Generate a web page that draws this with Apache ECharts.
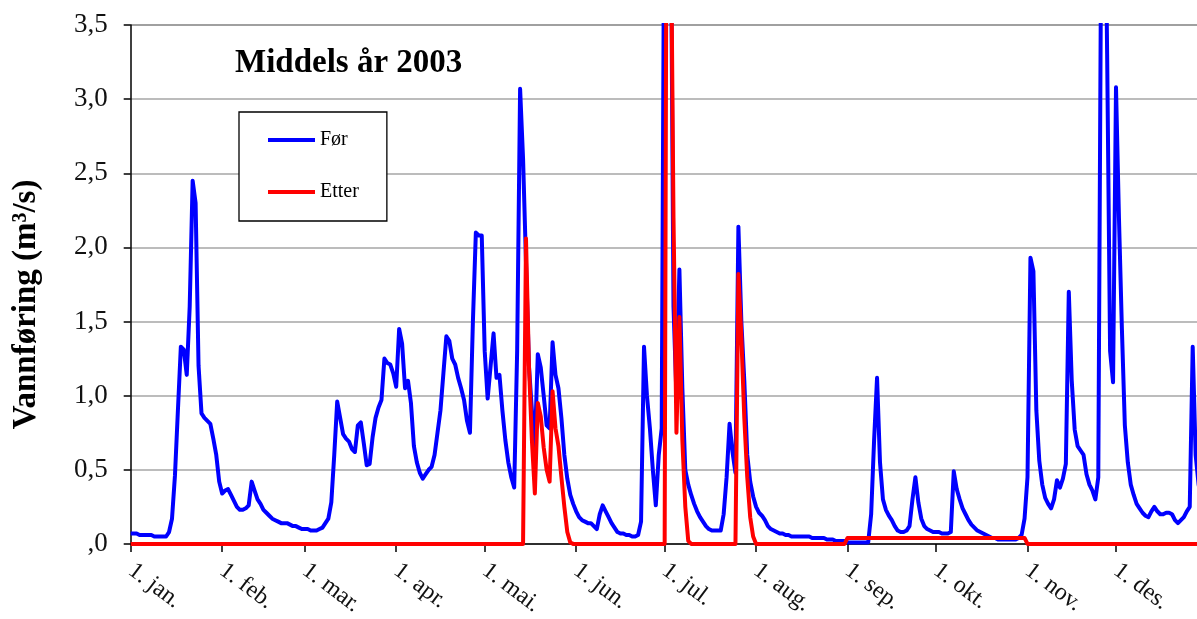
<!DOCTYPE html>
<html>
<head>
<meta charset="utf-8">
<script src="https://cdn.jsdelivr.net/npm/echarts@6/dist/echarts.min.js"></script>
<style>
  html, body { margin: 0; padding: 0; background: #fff; }
  #chart { width: 1197px; height: 619px; }
</style>
</head>
<body>
<div id="chart"></div>
<script>
// Daily discharge (m³/s) for 2003, day 0 = 1 January.
const forValues = [
  // jan
  0.07,0.07,0.07,0.06,0.06,0.06,0.06,0.06,0.05,0.05,0.05,0.05,0.05,0.08,0.17,0.46,0.9,1.33,1.31,1.14,1.6,2.45,2.3,1.2,0.88,0.85,0.83,0.81,0.71,0.6,0.42,
  // feb
  0.34,0.36,0.37,0.33,0.29,0.25,0.23,0.23,0.24,0.26,0.42,0.36,0.3,0.27,0.23,0.21,0.19,0.17,0.16,0.15,0.14,0.14,0.14,0.13,0.12,0.12,0.11,0.1,
  // mar
  0.1,0.1,0.09,0.09,0.09,0.1,0.11,0.14,0.17,0.28,0.6,0.96,0.85,0.74,0.71,0.69,0.64,0.62,0.8,0.82,0.68,0.53,0.54,0.72,0.85,0.92,0.97,1.25,1.22,1.21,1.15,
  // apr
  1.06,1.45,1.35,1.05,1.1,0.95,0.66,0.55,0.48,0.44,0.47,0.5,0.52,0.6,0.75,0.9,1.15,1.4,1.37,1.25,1.21,1.12,1.05,0.97,0.83,0.75,1.5,2.1,2.08,2.08,
  // mai
  1.3,0.98,1.2,1.42,1.12,1.14,0.9,0.7,0.55,0.45,0.38,1.3,3.07,2.6,1.9,1.2,0.9,0.66,1.28,1.19,1.0,0.8,0.78,1.36,1.14,1.05,0.85,0.6,0.44,0.33,0.27,
  // jun
  0.22,0.18,0.16,0.15,0.14,0.14,0.12,0.1,0.2,0.26,0.22,0.18,0.14,0.11,0.08,0.07,0.07,0.06,0.06,0.05,0.05,0.06,0.15,1.33,1.0,0.78,0.5,0.26,0.6,0.78,
  // jul
  5.0,6.0,4.5,1.6,1.0,1.85,1.05,0.5,0.4,0.33,0.27,0.22,0.18,0.15,0.12,0.1,0.09,0.09,0.09,0.09,0.2,0.45,0.81,0.62,0.48,2.14,1.5,1.1,0.6,0.42,0.32,
  // aug
  0.25,0.21,0.19,0.16,0.12,0.1,0.09,0.08,0.07,0.07,0.06,0.06,0.05,0.05,0.05,0.05,0.05,0.05,0.05,0.04,0.04,0.04,0.04,0.04,0.03,0.03,0.03,0.02,0.02,0.02,0.02,
  // sep
  0.01,0.01,0.01,0.01,0.01,0.01,0.01,0.01,0.2,0.7,1.12,0.55,0.3,0.23,0.19,0.16,0.12,0.09,0.08,0.08,0.09,0.12,0.3,0.45,0.28,0.17,0.12,0.1,0.09,0.08,
  // okt
  0.08,0.08,0.07,0.07,0.07,0.08,0.49,0.37,0.3,0.24,0.2,0.16,0.13,0.11,0.09,0.08,0.07,0.06,0.05,0.04,0.04,0.03,0.03,0.03,0.03,0.03,0.03,0.03,0.04,0.06,0.17,
  // nov
  0.45,1.93,1.84,0.9,0.56,0.4,0.31,0.27,0.24,0.3,0.43,0.38,0.44,0.54,1.7,1.1,0.77,0.66,0.63,0.6,0.47,0.4,0.36,0.3,0.45,4.2,5.0,3.3,1.3,1.09,
  // des
  3.08,2.2,1.45,0.8,0.55,0.4,0.33,0.27,0.24,0.21,0.19,0.18,0.22,0.25,0.22,0.2,0.2,0.21,0.21,0.2,0.16,0.14,0.16,0.18,0.22,0.25,1.33,0.6,0.4,0.3,0.25
];

const etterValues = [
  // jan
  0,0,0,0,0,0,0,0,0,0,0,0,0,0,0,0,0,0,0,0,0,0,0,0,0,0,0,0,0,0,0,
  // feb
  0,0,0,0,0,0,0,0,0,0,0,0,0,0,0,0,0,0,0,0,0,0,0,0,0,0,0,0,
  // mar
  0,0,0,0,0,0,0,0,0,0,0,0,0,0,0,0,0,0,0,0,0,0,0,0,0,0,0,0,0,0,0,
  // apr
  0,0,0,0,0,0,0,0,0,0,0,0,0,0,0,0,0,0,0,0,0,0,0,0,0,0,0,0,0,0,
  // mai
  0,0,0,0,0,0,0,0,0,0,0,0,0,0,2.06,1.2,0.7,0.34,0.95,0.86,0.65,0.5,0.42,1.03,0.78,0.66,0.45,0.25,0.08,0.01,0,
  // jun
  0,0,0,0,0,0,0,0,0,0,0,0,0,0,0,0,0,0,0,0,0,0,0,0,0,0,0,0,0,0,
  // jul
  0,7.0,4.5,2.2,0.75,1.53,0.7,0.25,0.02,0,0,0,0,0,0,0,0,0,0,0,0,0,0,0,0,1.82,1.4,0.85,0.45,0.18,0.05,
  // aug
  0,0,0,0,0,0,0,0,0,0,0,0,0,0,0,0,0,0,0,0,0,0,0,0,0,0,0,0,0,0,0,
  // sep
  0.04,0.04,0.04,0.04,0.04,0.04,0.04,0.04,0.04,0.04,0.04,0.04,0.04,0.04,0.04,0.04,0.04,0.04,0.04,0.04,0.04,0.04,0.04,0.04,0.04,0.04,0.04,0.04,0.04,0.04,
  // okt
  0.04,0.04,0.04,0.04,0.04,0.04,0.04,0.04,0.04,0.04,0.04,0.04,0.04,0.04,0.04,0.04,0.04,0.04,0.04,0.04,0.04,0.04,0.04,0.04,0.04,0.04,0.04,0.04,0.04,0.04,0.04,
  // nov
  0,0,0,0,0,0,0,0,0,0,0,0,0,0,0,0,0,0,0,0,0,0,0,0,0,0,0,0,0,0,
  // des
  0,0,0,0,0,0,0,0,0,0,0,0,0,0,0,0,0,0,0,0,0,0,0,0,0,0,0,0,0,0,0
];

// First day of each month (day of year) and its label
const monthStarts = [0, 31, 59, 90, 120, 151, 181, 212, 243, 273, 304, 334];
const monthLabels = ['1. jan.', '1. feb.', '1. mar.', '1. apr.', '1. mai.', '1. jun.',
                     '1. jul.', '1. aug.', '1. sep.', '1. okt.', '1. nov.', '1. des.'];

const yTicks = [0, 0.5, 1, 1.5, 2, 2.5, 3, 3.5];
const yTickLabels = [',0', '0,5', '1,0', '1,5', '2,0', '2,5', '3,0', '3,5'];

const seriesNames = ['Før', 'Etter'];
const chartTitle = 'Middels år 2003';
const yName = 'Vannføring (m³/s)';

const serif = 'Liberation Serif, Times New Roman, serif';

// The plot runs past the right edge of the canvas: the visible part ends
// a few days before the end of the year.
const plotLeft = 130.7;
const pxPerDay = 2.95;
const lastVisibleDay = (1197 - plotLeft) / pxPerDay;

const chart = echarts.init(document.getElementById('chart'), null, { renderer: 'canvas' });

chart.setOption({
  animation: false,
  backgroundColor: '#ffffff',
  title: {
    text: chartTitle,
    left: 235,
    top: 47,
    padding: 0,
    textStyle: { fontFamily: serif, fontWeight: 'bold', fontSize: 33, color: '#000' }
  },
  legend: {
    data: seriesNames,
    orient: 'vertical',
    left: 239,
    top: 112,
    padding: [18, 28, 19, 29],
    icon: 'rect',
    itemWidth: 47,
    itemHeight: 4,
    itemGap: 32,
    backgroundColor: '#fff',
    borderColor: '#000',
    borderWidth: 1.3,
    borderRadius: 0,
    textStyle: { fontFamily: serif, fontSize: 20, color: '#000' }
  },
  grid: { left: plotLeft, top: 25, bottom: 74, right: 0, containLabel: false },
  xAxis: {
    type: 'value',
    min: 0,
    max: lastVisibleDay,
    axisLine: { show: true, onZero: false, lineStyle: { color: '#000', width: 1.5 } },
    axisTick: { show: true, length: 8, customValues: monthStarts, lineStyle: { color: '#000', width: 1.5 } },
    axisLabel: {
      customValues: monthStarts,
      rotate: -37,
      margin: 24,
      fontFamily: serif,
      fontSize: 24,
      color: '#111',
      formatter: function (v) {
        const i = monthStarts.indexOf(Math.round(v));
        return i >= 0 ? monthLabels[i] : '';
      }
    },
    splitLine: { show: false }
  },
  yAxis: {
    type: 'value',
    min: 0,
    max: 3.5,
    interval: 0.5,
    name: yName,
    nameLocation: 'middle',
    nameRotate: 90,
    nameGap: 88,
    nameTextStyle: {
      fontFamily: serif, fontWeight: 'bold', fontSize: 33, color: '#000',
      padding: [0, 40, 0, 0]
    },
    axisLine: { show: true, lineStyle: { color: '#000', width: 1.5 } },
    axisTick: { show: true, length: 7, lineStyle: { color: '#000', width: 1.5 } },
    axisLabel: {
      margin: 23,
      fontFamily: serif,
      fontSize: 27,
      color: '#111',
      formatter: function (v) {
        const i = yTicks.findIndex(t => Math.abs(t - v) < 1e-6);
        return i >= 0 ? yTickLabels[i] : '';
      }
    },
    splitLine: {
      show: true,
      lineStyle: {
        color: ['#a6a6a6', '#a6a6a6', '#a6a6a6', '#a6a6a6', '#a6a6a6', '#a6a6a6', '#a6a6a6', '#808080'],
        width: 1.5
      }
    }
  },
  series: [
    {
      name: seriesNames[0],
      type: 'line',
      data: forValues.map((v, i) => [i, v]),
      showSymbol: false,
      symbol: 'none',
      clip: true,
      z: 2,
      lineStyle: { color: '#0000ff', width: 4, join: 'round' },
      itemStyle: { color: '#0000ff' }
    },
    {
      name: seriesNames[1],
      type: 'line',
      data: etterValues.map((v, i) => [i, v]),
      showSymbol: false,
      symbol: 'none',
      clip: true,
      z: 3,
      lineStyle: { color: '#ff0000', width: 4, join: 'round' },
      itemStyle: { color: '#ff0000' }
    }
  ]
});
</script>
</body>
</html>
